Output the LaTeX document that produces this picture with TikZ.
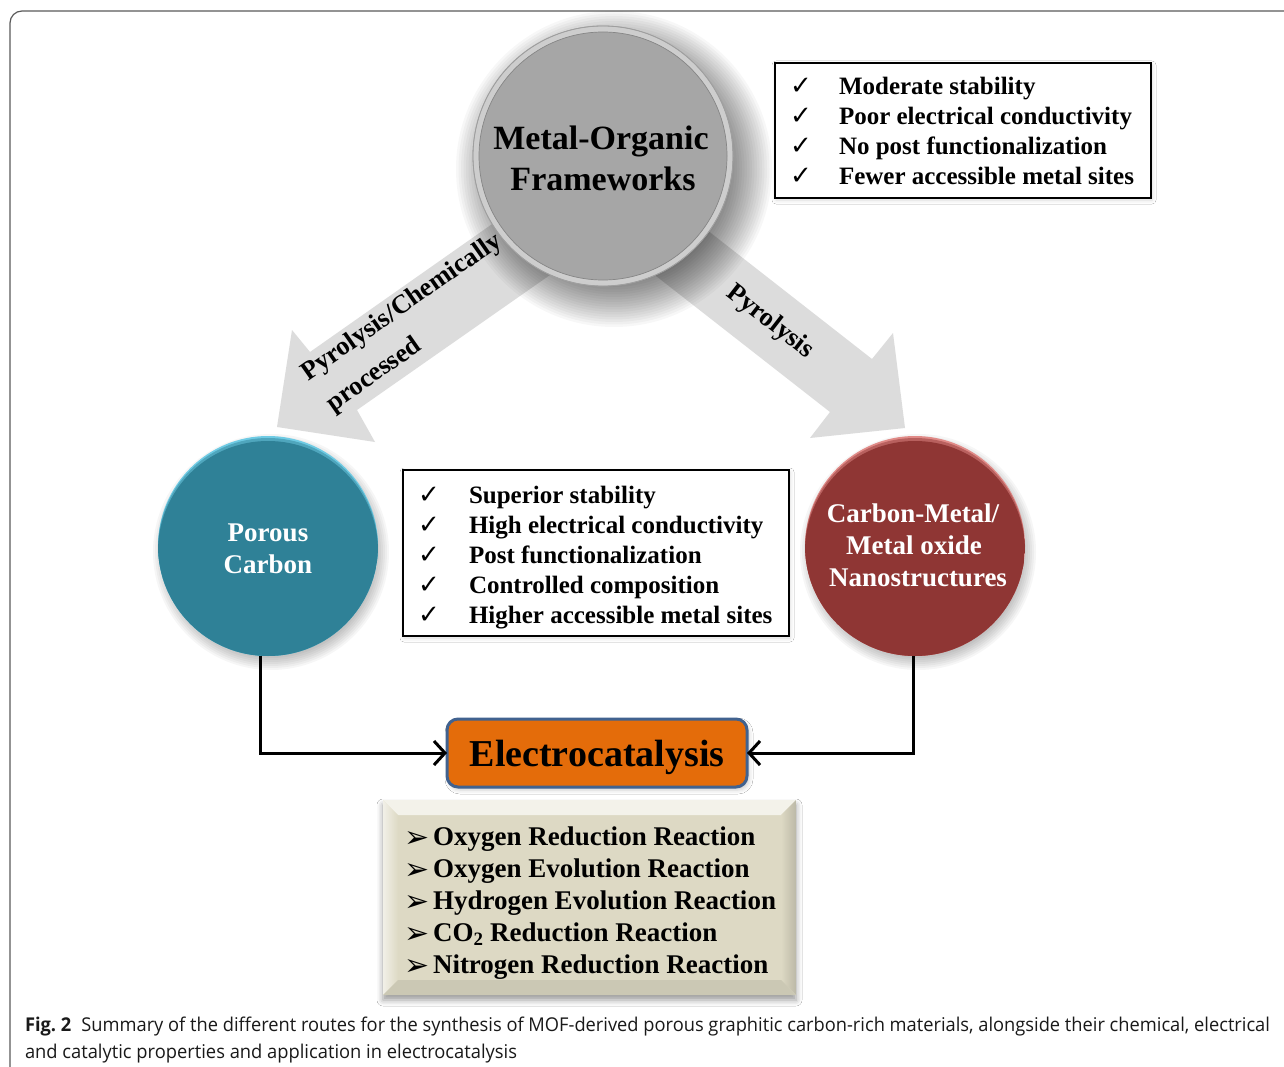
\documentclass[tikz,border=0pt]{standalone}
\usepackage{fontspec}
\usepackage{graphicx}
\setmainfont{Liberation Serif}
\newfontfamily\dejavu{DejaVu Sans}
\newfontfamily\capfont{Open Sans}
\usetikzlibrary{shadows.blur,arrows.meta}
\definecolor{mofgray}{HTML}{A6A6A6}
\definecolor{mofring}{HTML}{CDCDCD}
\definecolor{tealA}{HTML}{2F8197}
\definecolor{tealB}{HTML}{6FCBE4}
\definecolor{redA}{HTML}{8F3634}
\definecolor{redB}{HTML}{E08A87}
\definecolor{arrowgray}{HTML}{DCDCDC}
\definecolor{orangeE}{HTML}{E46C0A}
\definecolor{blueE}{HTML}{41628F}
\definecolor{beige}{HTML}{DDD9C4}
\definecolor{framegray}{HTML}{5A5A5A}
\begin{document}
\begin{tikzpicture}[x=1pt,y=-1pt,
  every node/.style={inner sep=0pt, outer sep=0pt},
  bigarrow/.style={fill=arrowgray, draw=none},
  arrlbl/.style={font=\fontsize{26.5}{30}\selectfont\bfseries},
  listtxt/.style={anchor=base west, font=\fontsize{25}{30}\selectfont\bfseries},
  reactxt/.style={anchor=base west, font=\fontsize{27}{32}\selectfont\bfseries},
  chk/.style={anchor=base west, font=\dejavu\fontsize{26}{28}\selectfont},
  bul/.style={anchor=base west, font=\dejavu\fontsize{30}{32}\selectfont},
  listbox/.style={draw=black, line width=2.4pt, fill=white,
    blur shadow={shadow xshift=1pt, shadow yshift=-2pt, shadow blur radius=4pt, shadow opacity=15}},
  circtxt/.style={anchor=base, font=\fontsize{27}{32}\selectfont\bfseries, text=white},
  softsh/.style={fill=black, opacity=#1},
  conn/.style={line width=3pt, -{Straight Barb[length=11pt,width=24pt,line width=3pt]}}
]
\useasboundingbox (0,0) rectangle (1284,1067);
\fill[white] (0,0) rectangle (1284,1067);
% frame
\draw[framegray, line width=1.2pt, rounded corners=12pt] (10,1067) -- (10,11) -- (1284,11);

% big gray arrows
\fill[bigarrow] (515,208) -- (310,352) -- (292,330) -- (277,427) -- (375,442) -- (357,410) -- (570,261) -- cycle;
\fill[bigarrow] (675,205) -- (872,359) -- (893,333) -- (905,428) -- (810,438) -- (830,412) -- (633,258) -- cycle;

% arrow labels
\node[arrlbl, rotate=35, anchor=base west] (lbl1) at (308,381) {Pyrolysis/Chemically};
\node[arrlbl, rotate=35, anchor=base west] (lbl2) at (333,412) {processed};
\node[arrlbl, rotate=-38] (lbl3) at (770,322) {Pyrolysis};

% MOF circle with soft shadow (stacked translucent discs)
\foreach \k in {0,...,23}{
  \fill[softsh=0.03] (614,169) circle ({158-2.5*\k});
}
\node[circle, minimum size=260pt, fill=mofring, draw=gray!75, line width=0.8pt] (mof) at (603,156) {};
\shade[inner color=mofring!60!white, outer color=mofring] (mof.center) circle (129.5);
\fill[mofgray] (mof.center) circle (124);
\draw[gray!95, line width=0.7pt] (mof.center) circle (124);
\draw[gray!75, line width=0.8pt] (mof.center) circle (130);
\node[anchor=base, font=\fontsize{34}{41}\selectfont\bfseries] (mof1) at (601,150) {Metal-Organic};
\node[anchor=base, font=\fontsize{34}{41}\selectfont\bfseries] (mof2) at (603,191) {Frameworks};

% Porous carbon
\foreach \k in {0,...,9}{
  \fill[softsh=0.035] (271,552) circle ({118-2*\k});
}
\node[circle, minimum size=220pt, fill=tealB] (pc) at (268,546) {};
\begin{scope}
  \clip (pc.center) circle (110);
  \fill[tealB!50!tealA] ([yshift=-2pt]pc.center) circle (110);
  \fill[tealA] ([yshift=-5pt]pc.center) circle (110);
\end{scope}
\node[circtxt] (pc1) at (268,541) {Porous};
\node[circtxt] (pc2) at (268,573) {Carbon};

% Carbon-Metal
\foreach \k in {0,...,9}{
  \fill[softsh=0.035] (918,552) circle ({118-2*\k});
}
\node[circle, minimum size=220pt, fill=redB] (cm) at (915,546) {};
\begin{scope}
  \clip (cm.center) circle (110);
  \fill[redB!50!redA] ([yshift=-2pt]cm.center) circle (110);
  \fill[redA] ([yshift=-5pt]cm.center) circle (110);
\end{scope}
\node[circtxt] (cm1) at (913,522) {Carbon-Metal/};
\node[circtxt] (cm2) at (914,554) {Metal oxide};
\node[circtxt] (cm3) at (918,586) {Nanostructures};

% top-right list
\node[listbox, minimum width=376pt, minimum height=135pt] (boxA) at (963,130.5) {};
\foreach \t [count=\i] in {Moderate stability, Poor electrical conductivity, No post functionalization, Fewer accessible metal sites}{
  \node[chk] (ca\i) at (790,65+30*\i) {✓};
  \node[listtxt] (ta\i) at (839,65+30*\i) {\t};
}

% middle list
\node[listbox, minimum width=386pt, minimum height=166pt] (boxB) at (596,553) {};
\foreach \t [count=\i] in {Superior stability, High electrical conductivity, Post functionalization, Controlled composition, Higher accessible metal sites}{
  \node[chk] (cb\i) at (418,473+30*\i) {✓};
  \node[listtxt] (tb\i) at (469,473+30*\i) {\t};
}

% Electrocatalysis
\node[draw=blueE, line width=3pt, fill=orangeE, rounded corners=11pt, minimum width=300pt, minimum height=68pt,
  font=\fontsize{38}{44}\selectfont\bfseries, text depth=0pt,
  blur shadow={shadow xshift=2pt, shadow yshift=-3pt, shadow blur radius=4pt, shadow opacity=20}] (elec) at (597,753) {Electrocatalysis};

\draw[conn] ([xshift=-8pt]pc.south) |- (elec.west);
\draw[conn] ([xshift=-2pt]cm.south) |- (elec.east);

% bottom beige box with bevel
\node[fill=beige, minimum width=413pt, minimum height=195pt,
  blur shadow={shadow xshift=0pt, shadow yshift=-5pt, shadow blur radius=6pt, shadow opacity=40}] (boxC) at (589.5,897.5) {};
\fill[beige!35!white] (383,800) -- (796,800) -- (781,815) -- (398,815) -- cycle;
\shade[left color=beige!40!white, right color=beige] (383,800) -- (398,815) -- (398,980) -- (383,995) -- cycle;
\shade[left color=beige, right color=beige!85!black] (796,800) -- (781,815) -- (781,980) -- (796,995) -- cycle;
\fill[beige!92!black] (383,995) -- (398,980) -- (781,980) -- (796,995) -- cycle;
\foreach \t [count=\i] in {Oxygen Reduction Reaction, Oxygen Evolution Reaction, Hydrogen Evolution Reaction, CO\textsubscript{2} Reduction Reaction, Nitrogen Reduction Reaction}{
  \node[bul] (bc\i) at (404,814.8+32.2*\i) {➢};
  \node[reactxt] (tc\i) at (433,812.8+32.2*\i) {\t};
}

% caption
\node[anchor=base west, font=\capfont\fontsize{19}{24}\selectfont, text=black!90] (cap1) at (25,1031)
  {\resizebox{1245pt}{\height}{\textbf{Fig.~2}\hspace{0.55em}Summary of the different routes for the synthesis of MOF-derived porous graphitic carbon-rich materials, alongside their chemical, electrical}};
\node[anchor=base west, font=\capfont\fontsize{19}{24}\selectfont, text=black!90] (cap2) at (25,1058)
  {\resizebox{492pt}{\height}{and catalytic properties and application in electrocatalysis}};
\end{tikzpicture}
\end{document}
